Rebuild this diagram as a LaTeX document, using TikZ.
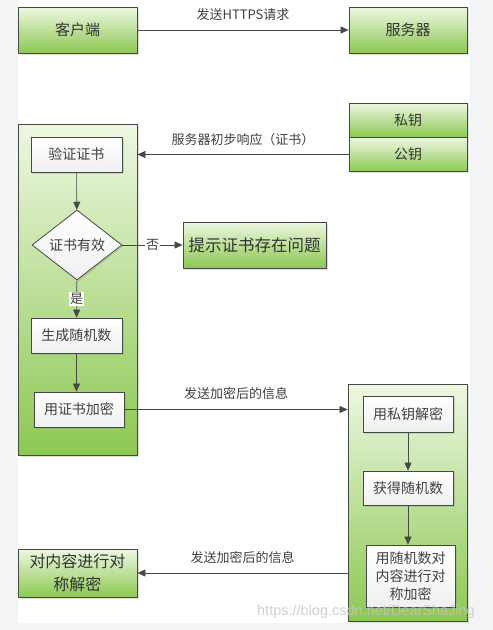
\documentclass[tikz,border=0pt]{standalone}
\usepackage{fontspec}
\setmainfont{Noto Sans CJK SC}
\newfontfamily\wmfont{Liberation Sans}
\usetikzlibrary{shapes.geometric,arrows.meta,shadows}
\definecolor{linegray}{HTML}{454A45}
\definecolor{greentop}{HTML}{EEF7E2}
\definecolor{greenbot}{HTML}{8CC852}
\definecolor{pagegray}{HTML}{F3F4F6}
\tikzset{
  greenbox/.style={draw=linegray, thick, top color=greentop, bottom color=greenbot,
    drop shadow={shadow xshift=1.5pt, shadow yshift=-1.5pt, opacity=0.25},
    inner sep=0pt, align=center, text=black!80},
  whitebox/.style={draw=linegray, thick, top color=white, bottom color=black!6,
    drop shadow={shadow xshift=1.5pt, shadow yshift=-1.5pt, opacity=0.25},
    inner sep=0pt, align=center, text=black!75, font=\fontsize{14}{18}\selectfont},
  arr/.style={-{Triangle[length=8pt,width=7pt]}, linegray, semithick},
  lbl/.style={text=black!75, font=\fontsize{13}{15}\selectfont}
}
\begin{document}
\begin{tikzpicture}[x=1pt,y=-1pt]
\useasboundingbox (0,0) rectangle (493,630);
\fill[pagegray] (0,0) rectangle (493,630);
\fill[white] (18,0) rectangle (470,623);

\node[greenbox, minimum width=119, minimum height=46, font=\fontsize{15}{18}\selectfont](client) at (77.5,30) {客户端};
\node[greenbox, minimum width=118, minimum height=46, font=\fontsize{15}{18}\selectfont](server) at (408,30) {服务器};
\node[greenbox, minimum width=118, minimum height=34, font=\fontsize{14}{18}\selectfont](privkey) at (408,120) {私钥};
\node[greenbox, minimum width=118, minimum height=34, font=\fontsize{14}{18}\selectfont](pubkey) at (408,154.5) {公钥};

% client side
\node[greenbox, minimum width=119, minimum height=331](leftc) at (77.5,289.5) {};
\node[whitebox, minimum width=91, minimum height=35](verify) at (76.5,154.5) {验证证书};
\node[whitebox, diamond, aspect=1.3, minimum width=90, minimum height=70](valid) at (77,245) {证书有效};
\node[greenbox, minimum width=143, minimum height=46, font=\fontsize{16.5}{20}\selectfont](problem) at (254.5,245) {提示证书存在问题};
\node[whitebox, minimum width=91, minimum height=35](random) at (76.5,335.5) {生成随机数};
\node[whitebox, minimum width=90, minimum height=35](encrypt) at (79,409.5) {用证书加密};

% server side
\node[greenbox, minimum width=119, minimum height=237](rightc) at (407.5,502.5) {};
\node[whitebox, minimum width=90, minimum height=36](decrypt) at (408,414) {用私钥解密};
\node[whitebox, minimum width=90, minimum height=34](getrand) at (408,488) {获得随机数};
\node[whitebox, minimum width=89, minimum height=62, font=\fontsize{14}{18}\selectfont](symenc) at (410.5,576) {用随机数对\\内容进行对\\称加密};
\node[greenbox, minimum width=119, minimum height=48, font=\fontsize{16}{23}\selectfont](symdec) at (77.5,573) {对内容进行对\\称解密};

\draw[arr](client)--(server) node[lbl, midway, above=6pt]{发送HTTPS请求};
\draw[arr](pubkey.west)--(pubkey.west -| leftc.east) node[lbl, midway, above=5pt]{服务器初步响应（证书）};
\draw[arr](verify)--(valid);
\draw[arr](valid)--(problem) node[lbl, midway, fill=white, inner sep=1pt]{否};
\draw[arr](valid)--(random) node[lbl, midway, fill=white, inner sep=1pt]{是};
\draw[arr](random.south)--(random.south |- encrypt.north);
\draw[arr](encrypt.east)--(encrypt.east -| rightc.west) node[lbl, midway, above=6pt]{发送加密后的信息};
\draw[arr](decrypt)--(getrand);
\draw[arr](getrand.south)--(getrand.south |- symenc.north);
\draw[arr](symdec.east -| rightc.west)--(symdec.east) node[lbl, midway, above=6pt]{发送加密后的信息};

\node[text=gray!45, opacity=0.8, font=\wmfont\fontsize{14.5}{16}\selectfont](wmark) at (366,612) {https://blog.csdn.net/DearShaJing};
\end{tikzpicture}
\end{document}
